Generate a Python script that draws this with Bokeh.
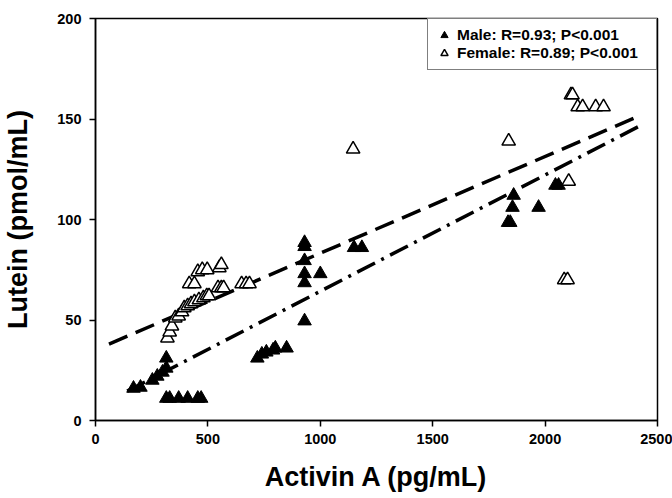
from bokeh.plotting import figure
from bokeh.models import Range1d, Legend, LegendItem, FixedTicker
from bokeh.embed import file_html
from bokeh.resources import INLINE

# ---- data ----
male_x = [169, 200, 253, 275, 298, 315, 315,
          315, 330, 370, 410, 455, 470,
          720, 740, 760, 790, 800, 850,
          930, 930, 930, 930, 930, 930, 1000, 1150, 1185,
          1835, 1845, 1855, 1860, 1971, 2046, 2060]
male_y = [16, 16.5, 20, 22, 24, 26, 31,
          11, 11, 11, 11, 11, 11,
          31, 33, 34, 35, 36, 36,
          88.5, 86.5, 79.5, 73, 68.5, 49.5, 73, 86, 86,
          98.5, 98.5, 106, 112, 106, 117, 117]

female_x = [320, 330, 340, 355, 370, 385, 395, 410, 425, 440, 460, 480, 495, 505,
            545, 560, 570, 650, 670, 685,
            417, 440, 455, 475, 497, 551, 560,
            1146, 1838, 2085, 2100, 2105, 2115, 2122, 2145, 2167, 2225, 2260]
female_y = [41, 44, 47, 51, 52, 54, 56, 57, 58, 59, 60, 61, 62, 62,
            66, 66, 66, 68, 68, 68,
            68, 68, 74, 75, 75, 76, 77.5,
            135, 139, 70, 70, 119, 162, 162, 156, 156, 156, 156]

female_fit_x = [60, 2400]
female_fit_y = [38, 150.6]
male_fit_x = [141, 2417]
male_fit_y = [14.6, 146.3]

x_ticks = [0, 500, 1000, 1500, 2000, 2500]
y_ticks = [0, 50, 100, 150, 200]

labels = ["Male: R=0.93; P<0.001", "Female: R=0.89; P<0.001"]

FONT = "Liberation Sans"

p = figure(frame_width=562, frame_height=402,
           min_border_left=95, min_border_right=15, min_border_top=18, min_border_bottom=76,
           output_backend="svg", toolbar_location=None,
           x_range=Range1d(0, 2500), y_range=Range1d(0, 200))

p.xgrid.visible = False
p.ygrid.visible = False
p.outline_line_color = "black"
p.outline_line_width = 1.5
p.background_fill_color = "white"
p.border_fill_color = "white"

p.line(female_fit_x, female_fit_y, line_color="black", line_width=3.5, line_dash="20 9")
p.line(male_fit_x, male_fit_y, line_color="black", line_width=3.5, line_dash="20 7 3 7")

rf = p.scatter(female_x, female_y, marker="triangle", size=13.5,
               fill_color="white", line_color="black", line_width=1.5)
rm = p.scatter(male_x, male_y, marker="triangle", size=13.5,
               fill_color="black", line_color="black", line_width=1)

for ax in (p.xaxis[0], p.yaxis[0]):
    ax.axis_line_width = 1.5
    ax.axis_line_color = "black"
    ax.major_tick_line_width = 1.5
    ax.major_tick_in = 0
    ax.major_tick_out = 6
    ax.minor_tick_line_color = None
    ax.major_label_text_font = FONT
    ax.major_label_text_font_style = "bold"
    ax.major_label_text_font_size = "14.5px"
    ax.major_label_text_color = "black"
    ax.axis_label_text_font = FONT
    ax.axis_label_text_font_style = "bold"
    ax.axis_label_text_font_size = "27px"
    ax.axis_label_text_color = "black"

p.xaxis[0].ticker = FixedTicker(ticks=x_ticks)
p.yaxis[0].ticker = FixedTicker(ticks=y_ticks)
p.xaxis[0].axis_label = "Activin A (pg/mL)"
p.yaxis[0].axis_label = "Lutein (pmol/mL)"
p.xaxis[0].major_label_standoff = 7
p.xaxis[0].axis_label_standoff = 15
p.yaxis[0].major_label_standoff = 8
p.yaxis[0].axis_label_standoff = 21

legend = Legend(items=[LegendItem(label=labels[0], renderers=[rm]),
                       LegendItem(label=labels[1], renderers=[rf])],
                location="top_right", margin=0, padding=7, spacing=0,
                glyph_width=18, glyph_height=18, label_standoff=4,
                label_width=192,
                label_text_font=FONT, label_text_font_style="bold",
                label_text_font_size="15.5px", label_text_color="black",
                border_line_color="black", border_line_width=1.5,
                background_fill_alpha=1.0)
p.add_layout(legend, "center")

open("out.html", "w").write(file_html(p, INLINE))
